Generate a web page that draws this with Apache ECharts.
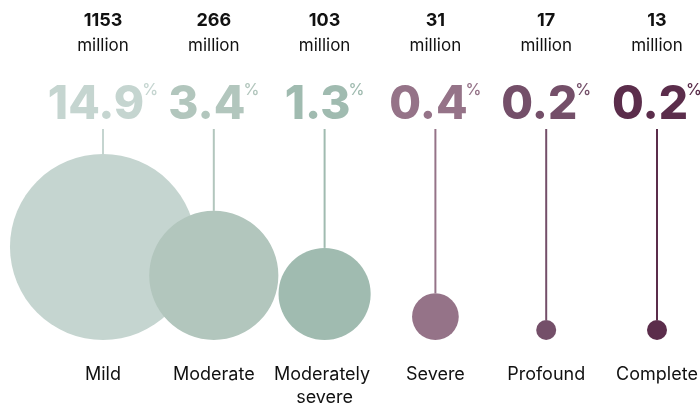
<!DOCTYPE html>
<html>
<head>
<meta charset="utf-8">
<script src="https://cdn.jsdelivr.net/npm/echarts@6/dist/echarts.min.js"></script>
<style>
  html, body { margin: 0; padding: 0; background: #ffffff; }
  #chart { width: 700px; height: 406px; }
</style>
</head>
<body>
<div id="chart"></div>
<script>
// Hearing loss grades: people affected (millions) and share of world population (%)
const categories = ['Mild', 'Moderate', 'Moderately severe', 'Severe', 'Profound', 'Complete'];
const peopleMillions = [1153, 266, 103, 31, 17, 13];
const sharePercent = [14.9, 3.4, 1.3, 0.4, 0.2, 0.2];
const unitLabel = 'million';

// Light sage for the milder grades, deepening to plum for the severe ones
const palette = ['#c5d5d0', '#b2c6bd', '#a0bbb0', '#957388', '#744f69', '#5b2d4b'];
const FONT = 'Inter, "Noto Sans", sans-serif';

// Bubble radius follows the logarithm of the population share
function radiusFor(pct) {
  return 41 + 19.26 * Math.log(pct);
}

const seriesData = categories.map((c, i) => [i, peopleMillions[i], sharePercent[i]]);

function renderItem(params, api) {
  const idx = api.value(0);
  const base = api.coord([idx, 0]);
  const top = api.coord([idx, 1]);
  const x = base[0];
  const r = radiusFor(api.value(2));
  const color = palette[idx];
  return {
    type: 'group',
    children: [
      {
        type: 'line',
        shape: { x1: x, y1: top[1], x2: x, y2: base[1] - 2 * r },
        style: { stroke: color, lineWidth: 2 }
      },
      {
        type: 'circle',
        shape: { cx: x, cy: base[1] - r, r: r },
        style: { fill: color }
      },
      {
        type: 'text',
        style: {
          text: String(api.value(1)),
          x: x, y: top[1] - 108,
          align: 'center', verticalAlign: 'middle',
          fontFamily: FONT, fontSize: 18, fontWeight: 'bold',
          fill: '#111111'
        }
      },
      {
        type: 'text',
        style: {
          text: unitLabel,
          x: x, y: top[1] - 83,
          align: 'center', verticalAlign: 'middle',
          fontFamily: FONT, fontSize: 17,
          fill: '#111111'
        }
      },
      {
        type: 'text',
        style: {
          text: '{n|' + api.value(2).toFixed(1) + '}{p|%}',
          x: x, y: top[1] - 24,
          align: 'center', verticalAlign: 'middle',
          rich: {
            n: { fontFamily: FONT, fontSize: 46, fontWeight: 800, fill: color, lineHeight: 46 },
            p: { fontFamily: FONT, fontSize: 16, fontWeight: 500, fill: color, lineHeight: 34, verticalAlign: 'top', padding: [0, 0, 0, -2] }
          }
        }
      }
    ]
  };
}

const chart = echarts.init(document.getElementById('chart'), null, { renderer: 'canvas' });
chart.setOption({
  animation: false,
  backgroundColor: '#ffffff',
  grid: { left: 103, right: 43, top: 129, bottom: 66, containLabel: false, outerBoundsMode: 'none' },
  xAxis: {
    type: 'category',
    data: categories,
    boundaryGap: false,
    axisLine: { show: false },
    axisTick: { show: false },
    splitLine: { show: false },
    axisLabel: {
      interval: 0,
      margin: 23,
      fontFamily: FONT,
      fontSize: 18,
      lineHeight: 23,
      color: '#111111',
      width: 110,
      overflow: 'break'
    }
  },
  yAxis: { type: 'value', min: 0, max: 1, show: false },
  series: [{
    type: 'custom',
    renderItem: renderItem,
    data: seriesData
  }]
});
</script>
</body>
</html>
